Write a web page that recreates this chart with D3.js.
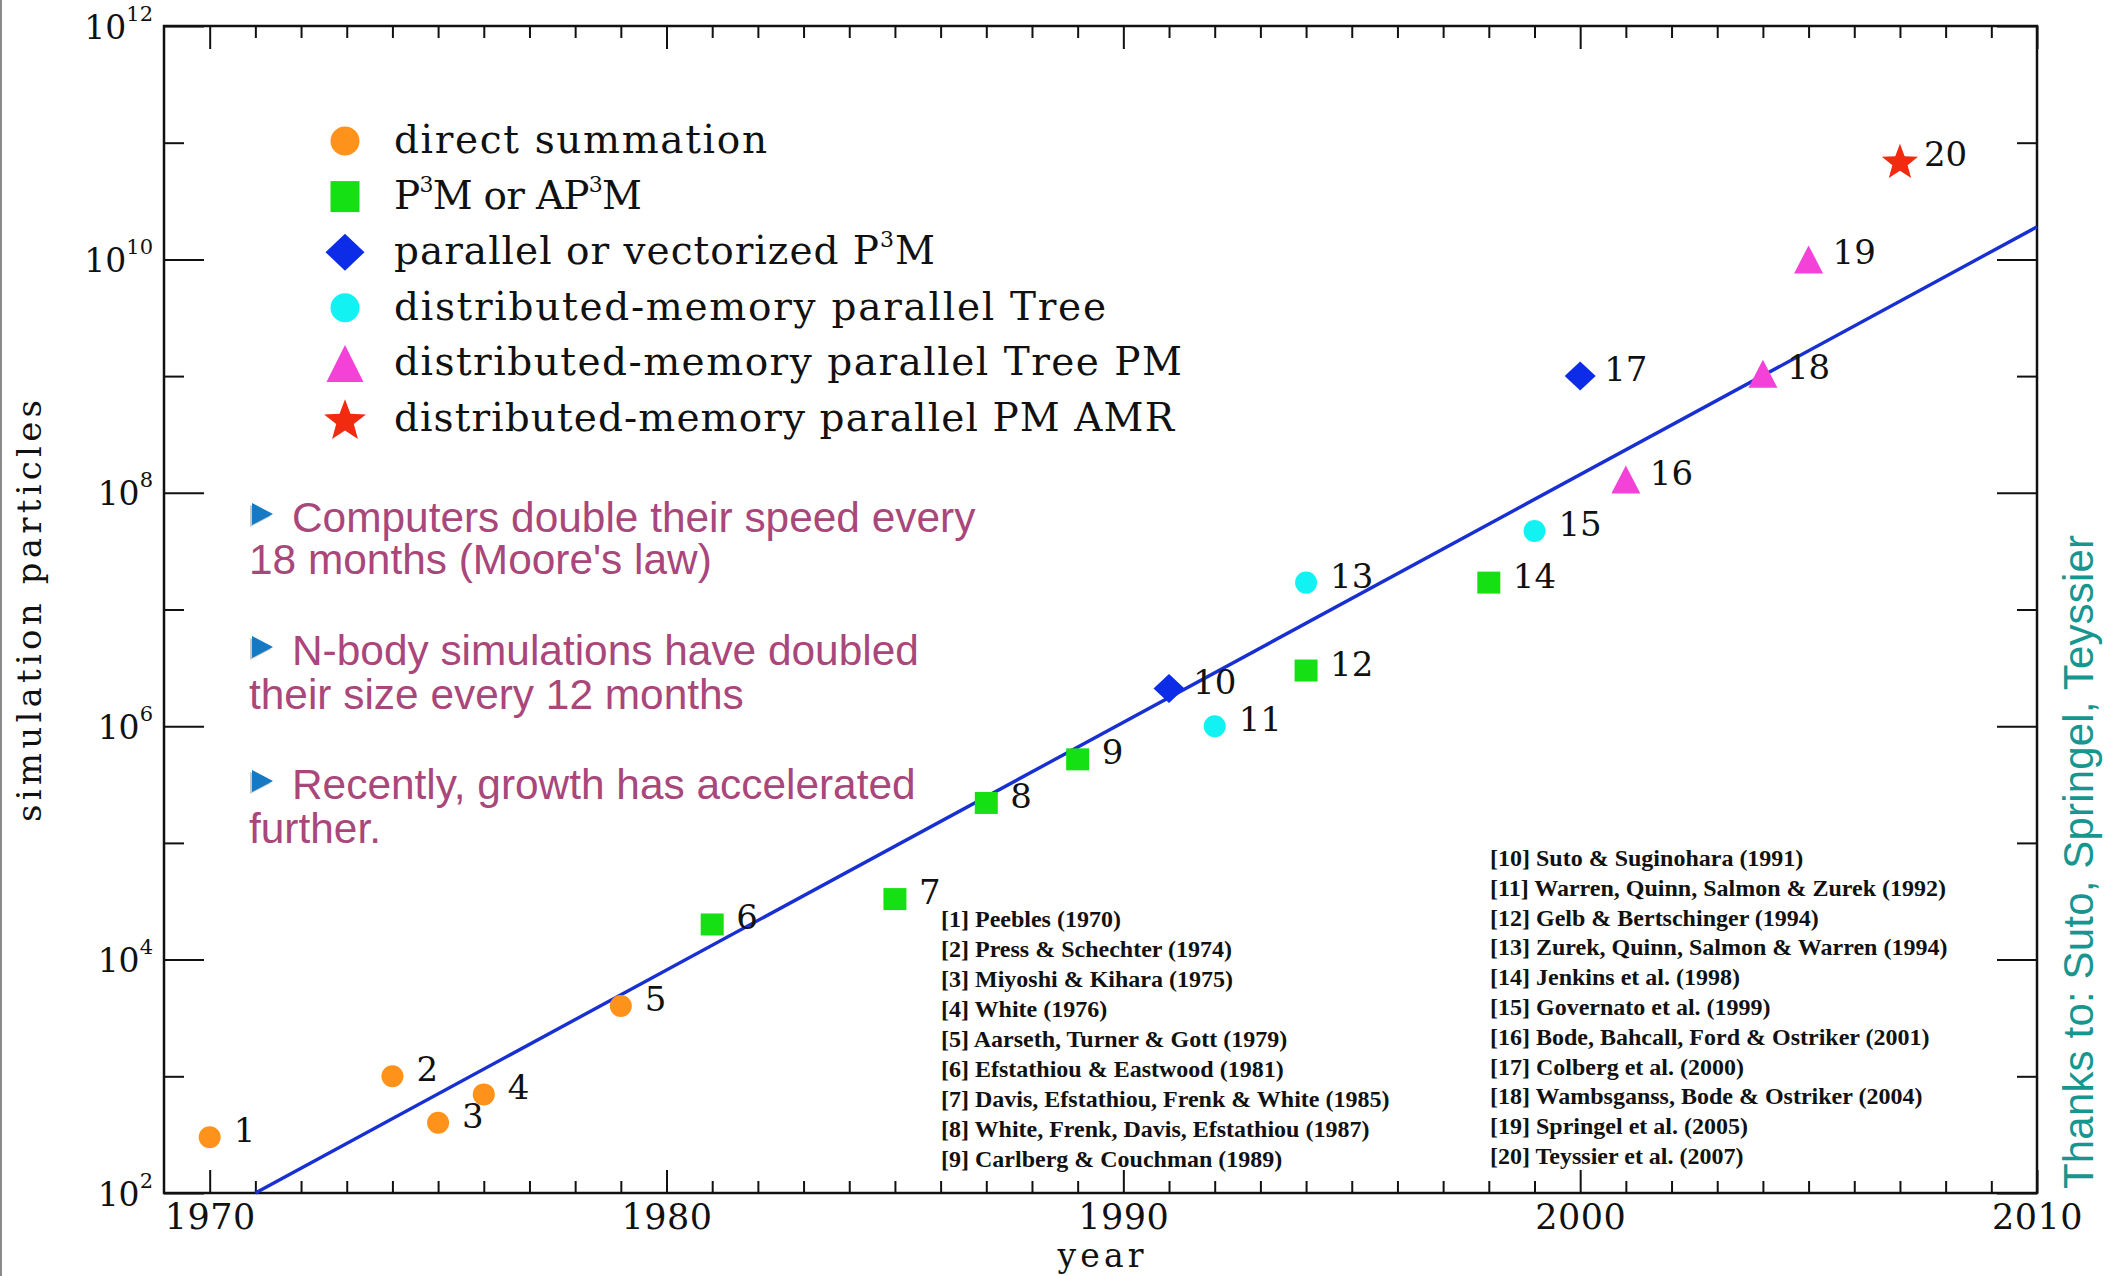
<!DOCTYPE html>
<html>
<head>
<meta charset="utf-8">
<script src="https://cdn.jsdelivr.net/npm/d3@7"></script>
<style>
  html, body { margin: 0; padding: 0; background: #ffffff; }
  svg { display: block; }
</style>
</head>
<body>
<svg id="chart" width="2106" height="1276"></svg>
<script>
// ---- N-body simulation records ----
const refNumbers = [1, 2, 3, 4, 5, 6, 7, 8, 9, 10, 11, 12, 13, 14, 15, 16, 17, 18, 19, 20];
const years      = [1970, 1974, 1975, 1976, 1979, 1981, 1985, 1987, 1989, 1991,
                    1992, 1994, 1994, 1998, 1999, 2001, 2000, 2004, 2005, 2007];
const particles  = [300, 1000, 400, 700, 4000, 2.0e4, 3.3e4, 2.2e5, 5.2e5, 2.1e6,
                    1.0e6, 3.0e6, 1.7e7, 1.7e7, 4.7e7, 1.3e8, 1.0e9, 1.05e9, 1.0e10, 7.0e10];
// index into methodLabels
const methodOf   = [0, 0, 0, 0, 0, 1, 1, 1, 1, 2, 3, 1, 3, 1, 3, 4, 2, 4, 4, 5];

const methodLabels = [
  "direct summation",
  "P^3M or AP^3M",
  "parallel or vectorized P^3M",
  "distributed-memory parallel Tree",
  "distributed-memory parallel Tree PM",
  "distributed-memory parallel PM AMR"
];

// fitted exponential growth line (end points)
const trendYears     = [1971, 2010];
const trendParticles = [1e2, 1.9e10];

const referencesLeft = [
  "[1] Peebles (1970)",
  "[2] Press & Schechter (1974)",
  "[3] Miyoshi & Kihara (1975)",
  "[4] White (1976)",
  "[5] Aarseth, Turner & Gott (1979)",
  "[6] Efstathiou & Eastwood (1981)",
  "[7] Davis, Efstathiou, Frenk & White (1985)",
  "[8] White, Frenk, Davis, Efstathiou (1987)",
  "[9] Carlberg & Couchman (1989)"
];
const referencesRight = [
  "[10] Suto & Suginohara (1991)",
  "[11] Warren, Quinn, Salmon & Zurek (1992)",
  "[12] Gelb & Bertschinger (1994)",
  "[13] Zurek, Quinn, Salmon & Warren (1994)",
  "[14] Jenkins et al. (1998)",
  "[15] Governato et al. (1999)",
  "[16] Bode, Bahcall, Ford & Ostriker (2001)",
  "[17] Colberg et al. (2000)",
  "[18] Wambsganss, Bode & Ostriker (2004)",
  "[19] Springel et al. (2005)",
  "[20] Teyssier et al. (2007)"
];

const bulletLines = [
  ["Computers double their speed every", "18 months (Moore's law)"],
  ["N-body simulations have doubled", "their size every 12 months"],
  ["Recently, growth has accelerated", "further."]
];

const xMajorTicks = [1970, 1980, 1990, 2000, 2010];
const xMinorTicks = d3.range(1970, 2011).filter(v => v % 10 !== 0);
const yMajorTicks = [1e2, 1e4, 1e6, 1e8, 1e10, 1e12];
const yMinorTicks = [1e3, 1e5, 1e7, 1e9, 1e11];

const xLabel = "year";
const yLabel = "simulation particles";
const creditText = "Thanks to: Suto, Springel, Teyssier";

// ---- appearance ----
const methodShapes = ["circle", "square", "diamond", "circle", "triangle", "star"];
const methodColors = ["#ff921a", "#14e014", "#0c2ce8", "#12f2f2", "#f442d8", "#f22a10"];
const markerSize = { circle: [22, 21], square: [23, 22], diamond: [31, 29], triangle: [29, 28], star: [19, 0] };
const legendSize = { circle: [29, 29], square: [29, 31], diamond: [39, 37], triangle: [37, 37], star: [22, 0] };
const legendWidths = [373, 248, 541, 712, 788, 780];

const serif = "'DejaVu Serif', serif";
const sans = "'Liberation Sans', Arial, sans-serif";

const W = 2106, H = 1276;
const plot = { left: 164, right: 2037, top: 26, bottom: 1193 };

const svg = d3.select("#chart");

const x = d3.scaleLinear().domain([1969, 2010]).range([plot.left, plot.right]);
const y = d3.scaleLog().domain([1e2, 1e12]).range([plot.bottom, plot.top]);

// page edge line
svg.append("line")
  .attr("x1", 1).attr("x2", 1).attr("y1", 0).attr("y2", H)
  .attr("stroke", "#8a8a8a").attr("stroke-width", 2);

function shapePath(shape, w, h) {
  if (shape === "circle") {
    const p = d3.path();
    p.ellipse ? p.ellipse(0, 0, w / 2, h / 2, 0, 0, 2 * Math.PI) : p.arc(0, 0, w / 2, 0, 2 * Math.PI);
    return p.toString();
  }
  if (shape === "square") {
    return `M${-w / 2},${-h / 2}H${w / 2}V${h / 2}H${-w / 2}Z`;
  }
  if (shape === "diamond") {
    return `M0,${-h / 2}L${w / 2},0L0,${h / 2}L${-w / 2},0Z`;
  }
  if (shape === "triangle") {
    return `M0,${-h / 2}L${w / 2},${h / 2}L${-w / 2},${h / 2}Z`;
  }
  // five pointed star, w = outer radius
  const R = w, r = R * 0.42;
  const pts = d3.range(10).map(i => {
    const a = -Math.PI / 2 + i * Math.PI / 5;
    const rad = i % 2 ? r : R;
    return [rad * Math.cos(a), rad * Math.sin(a) + R * 0.1];
  });
  return "M" + pts.map(p => p.join(",")).join("L") + "Z";
}

// text with ^superscript digits
function richText(sel, str, supSize, rise) {
  const parts = str.split(/\^(\d+)/);
  let cur = 0;
  parts.forEach((p, i) => {
    if (p === "") return;
    const t = sel.append("tspan").text(p);
    if (i % 2 === 1) {
      t.attr("font-size", supSize).attr("dy", -rise - cur);
      cur = -rise;
    } else if (cur !== 0) {
      t.attr("dy", -cur);
      cur = 0;
    }
  });
}

// ---- axes (ticks point into the frame) ----
function styleAxis(g) {
  g.select(".domain").remove();
  g.selectAll(".tick line").attr("stroke", "#111").attr("stroke-width", 2);
}

svg.append("g").attr("transform", `translate(0,${plot.bottom})`)
  .call(d3.axisBottom(x).tickValues(xMinorTicks).tickSizeInner(-12).tickSizeOuter(0).tickFormat(""))
  .call(styleAxis);
const bottomMajor = svg.append("g").attr("transform", `translate(0,${plot.bottom})`)
  .call(d3.axisBottom(x).tickValues(xMajorTicks).tickSizeInner(-23).tickSizeOuter(0)
    .tickPadding(11).tickFormat(d3.format("d")))
  .call(styleAxis);
bottomMajor.attr("font-family", serif).attr("font-size", 35);
bottomMajor.selectAll(".tick text").attr("fill", "#111").attr("letter-spacing", 0.5);

svg.append("g").attr("transform", `translate(0,${plot.top})`)
  .call(d3.axisTop(x).tickValues(xMinorTicks).tickSizeInner(-12).tickSizeOuter(0).tickFormat(""))
  .call(styleAxis);
svg.append("g").attr("transform", `translate(0,${plot.top})`)
  .call(d3.axisTop(x).tickValues(xMajorTicks).tickSizeInner(-23).tickSizeOuter(0).tickFormat(""))
  .call(styleAxis);

svg.append("g").attr("transform", `translate(${plot.left},0)`)
  .call(d3.axisLeft(y).tickValues(yMinorTicks).tickSizeInner(-20).tickSizeOuter(0).tickFormat(""))
  .call(styleAxis);
const leftMajor = svg.append("g").attr("transform", `translate(${plot.left},0)`)
  .call(d3.axisLeft(y).tickValues(yMajorTicks).tickSizeInner(-40).tickSizeOuter(0).tickFormat(""))
  .call(styleAxis);
leftMajor.selectAll(".tick text").remove();
leftMajor.selectAll(".tick").each(function (d) {
  const t = d3.select(this).append("text")
    .attr("x", -11).attr("y", 12)
    .attr("text-anchor", "end")
    .attr("font-family", serif).attr("font-size", 33).attr("fill", "#111");
  richText(t, "10^" + Math.round(Math.log10(d)), 21, 18);
});

svg.append("g").attr("transform", `translate(${plot.right},0)`)
  .call(d3.axisRight(y).tickValues(yMinorTicks).tickSizeInner(-20).tickSizeOuter(0).tickFormat(""))
  .call(styleAxis);
svg.append("g").attr("transform", `translate(${plot.right},0)`)
  .call(d3.axisRight(y).tickValues(yMajorTicks).tickSizeInner(-40).tickSizeOuter(0).tickFormat(""))
  .call(styleAxis);

// frame
svg.append("rect")
  .attr("x", plot.left).attr("y", plot.top)
  .attr("width", plot.right - plot.left).attr("height", plot.bottom - plot.top)
  .attr("fill", "none").attr("stroke", "#111").attr("stroke-width", 2.5);

// axis titles
svg.append("text")
  .attr("x", (plot.left + plot.right) / 2).attr("y", 1267)
  .attr("text-anchor", "middle")
  .attr("font-family", serif).attr("font-size", 33).attr("fill", "#111")
  .attr("textLength", 86).attr("lengthAdjust", "spacing")
  .text(xLabel);

svg.append("text")
  .attr("transform", "translate(41,611) rotate(-90)")
  .attr("text-anchor", "middle")
  .attr("font-family", serif).attr("font-size", 34).attr("fill", "#111")
  .attr("textLength", 422).attr("lengthAdjust", "spacing")
  .text(yLabel);

// ---- trend line ----
const trend = trendYears.map((yr, i) => [yr, trendParticles[i]]);
svg.append("path")
  .datum(trend)
  .attr("d", d3.line().x(d => x(d[0])).y(d => y(d[1])))
  .attr("fill", "none").attr("stroke", "#1830d2").attr("stroke-width", 3.4);

// ---- simulation markers ----
const records = refNumbers.map((n, i) => ({
  n, year: years[i], value: particles[i], method: methodOf[i]
}));

const pts = svg.append("g");
pts.selectAll("path")
  .data(records)
  .join("path")
  .attr("transform", d => `translate(${x(d.year)},${y(d.value)})`)
  .attr("d", d => {
    const s = methodShapes[d.method];
    const [w, h] = markerSize[s];
    return shapePath(s, w, h);
  })
  .attr("fill", d => methodColors[d.method]);

pts.selectAll("text")
  .data(records)
  .join("text")
  .attr("x", d => x(d.year) + 24)
  .attr("y", d => y(d.value) + 5)
  .attr("font-family", serif).attr("font-size", 34).attr("fill", "#111")
  .text(d => d.n);

// ---- legend ----
const legend = svg.append("g");
const legendRowY = d3.range(methodLabels.length).map(i => 141 + i * 55.6);
methodLabels.forEach((label, i) => {
  const s = methodShapes[i];
  const [w, h] = legendSize[s];
  legend.append("path")
    .attr("transform", `translate(345,${legendRowY[i]})`)
    .attr("d", shapePath(s, w, h))
    .attr("fill", methodColors[i]);
  const t = legend.append("text")
    .attr("x", 394).attr("y", legendRowY[i] + 12)
    .attr("font-family", serif).attr("font-size", 39).attr("fill", "#111")
    .attr("textLength", legendWidths[i]).attr("lengthAdjust", "spacing");
  richText(t, label, 22, 17);
});

// ---- reference list ----
const refs = svg.append("g")
  .attr("font-family", "'Liberation Serif', serif")
  .attr("font-weight", "bold").attr("font-size", 24).attr("fill", "#111");
refs.selectAll("text.l")
  .data(referencesLeft)
  .join("text").attr("class", "l")
  .attr("x", 941).attr("y", (d, i) => 927 + i * 30)
  .text(d => d);
refs.selectAll("text.r")
  .data(referencesRight)
  .join("text").attr("class", "r")
  .attr("x", 1490).attr("y", (d, i) => 866 + i * 29.8)
  .text(d => d);

// ---- bullet notes ----
const bulletBase = [[532, 574], [665, 709], [799, 843]];
const notes = svg.append("g").attr("font-family", sans).attr("font-size", 42.4).attr("fill", "#a9467a");
bulletLines.forEach((lines, i) => {
  const [b1, b2] = bulletBase[i];
  const cy = b1 - 18;
  notes.append("path")
    .attr("d", `M252,${cy - 11}L273,${cy}L252,${cy + 11}Z`)
    .attr("fill", "#9a9a9a").attr("opacity", 0.55)
    .attr("transform", "translate(-2,2)");
  notes.append("path")
    .attr("d", `M252,${cy - 11}L273,${cy}L252,${cy + 11}Z`)
    .attr("fill", "#1679c4");
  notes.append("text").attr("x", 292).attr("y", b1).text(lines[0]);
  notes.append("text").attr("x", 249).attr("y", b2).text(lines[1]);
});

// ---- credit line ----
svg.append("text")
  .attr("transform", "translate(2093,862) rotate(-90)")
  .attr("text-anchor", "middle")
  .attr("font-family", sans).attr("font-size", 42).attr("fill", "#17968f")
  .attr("textLength", 654).attr("lengthAdjust", "spacing")
  .text(creditText);
</script>
</body>
</html>
